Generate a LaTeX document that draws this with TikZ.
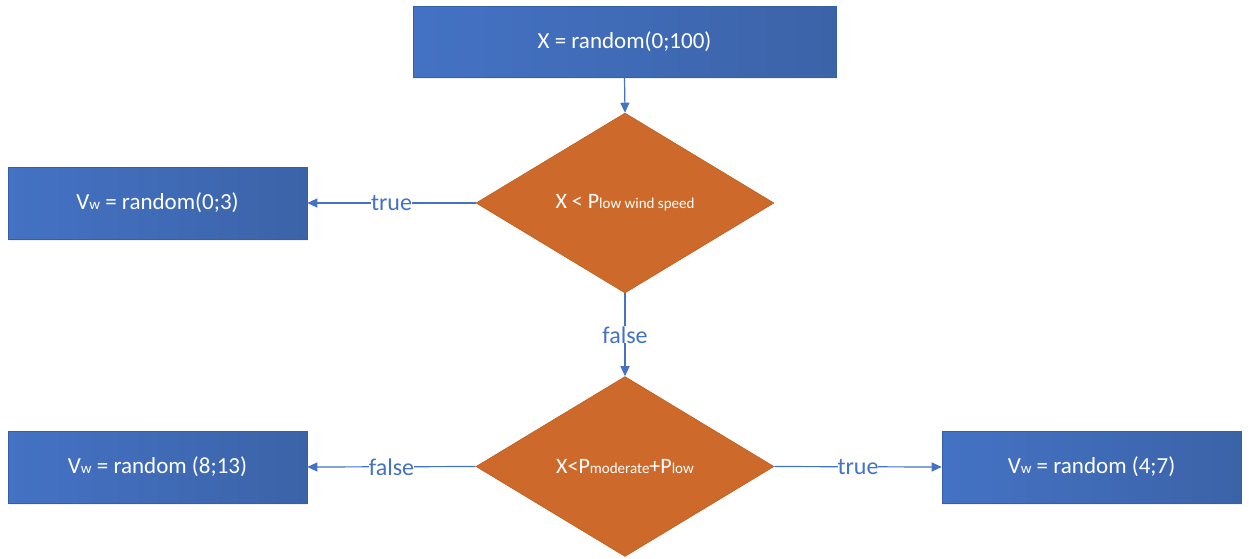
\documentclass[tikz,border=0pt]{standalone}
\usepackage{fontspec}
\setmainfont{Carlito}
\usetikzlibrary{shapes.geometric,arrows.meta,shadows}
\definecolor{boxL}{HTML}{4472C4}
\definecolor{boxR}{HTML}{3B63A8}
\definecolor{boxB}{HTML}{3560A8}
\definecolor{decF}{HTML}{CD6A2B}
\definecolor{decB}{HTML}{C0601F}
\definecolor{arr}{HTML}{4472C4}
\newcommand{\sbs}[1]{{\fontsize{15}{15}\selectfont #1}}
\tikzset{
  procbox/.style={rectangle, draw=boxB, line width=0.6pt, left color=boxL, right color=boxR,
    text=white, font=\fontsize{23}{25}\selectfont, inner sep=0pt,
    drop shadow={opacity=0.12, shadow xshift=1pt, shadow yshift=-2pt}},
  decbox/.style={diamond, draw=decB, line width=0.6pt, fill=decF, text=white,
    font=\fontsize{22}{24}\selectfont, inner sep=0pt,
    minimum width=298pt, minimum height=180pt},
  conn/.style={draw=arr, line width=1.2pt, -{Triangle[width=9pt,length=10pt]}},
  lbl/.style={fill=white, text=arr, inner sep=0pt, font=\fontsize{24}{26}\selectfont}
}
\begin{document}
\begin{tikzpicture}[x=1pt,y=-1pt]
\useasboundingbox (0,0) rectangle (1249,558);
\node[procbox, minimum width=423pt, minimum height=71pt] (top) at (624.5,41.5) {X = random(0;100)};
\node[decbox] (d1) at (625,203) {X < P\sbs{low wind speed}};
\node[procbox, minimum width=299pt, minimum height=72pt] (b1) at (157.5,203) {V\sbs{w} = random(0;3)};
\node[decbox] (d2) at (625,466.5) {X<P\sbs{moderate}+P\sbs{low}};
\node[procbox, minimum width=299pt, minimum height=72pt] (b2) at (157.5,467) {V\sbs{w} = random (8;13)};
\node[procbox, minimum width=299pt, minimum height=72pt] (b3) at (1091.5,467) {V\sbs{w} = random (4;7)};
\draw[conn] (top.south) -- (d1.north);
\draw[conn] (d1.west) -- node[lbl] (t1) {true} (b1.east);
\draw[conn] (d1.south) -- node[lbl] (f1) {false} (d2.north);
\draw[conn] (d2.west) -- node[lbl] (f2) {false} (b2.east);
\draw[conn] (d2.east) -- node[lbl] (t2) {true} (b3.west);
\end{tikzpicture}
\end{document}
